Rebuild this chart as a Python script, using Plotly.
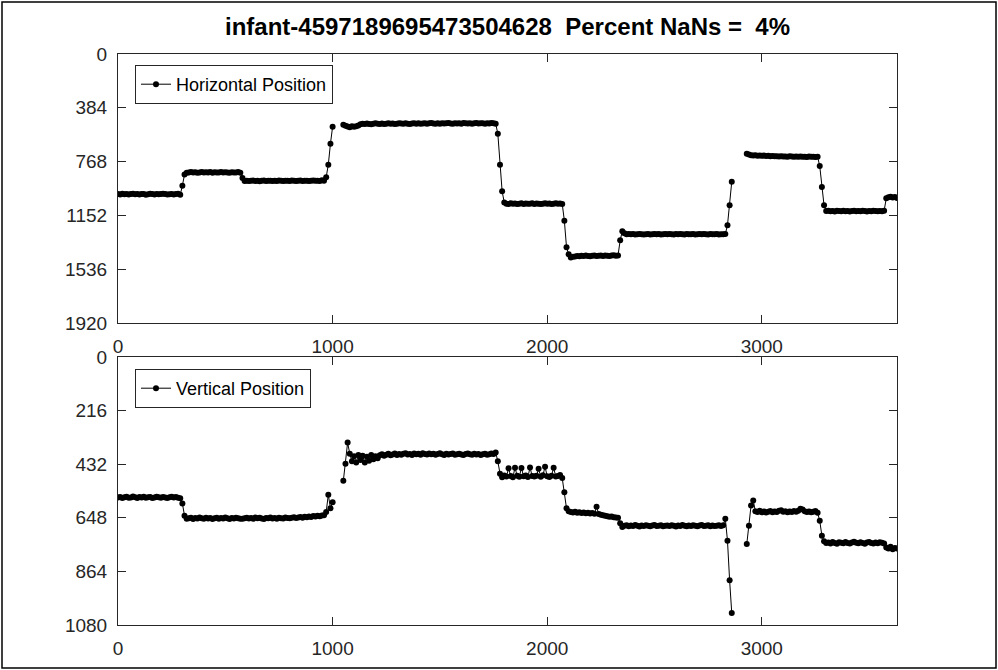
import plotly.graph_objects as go

TITLE = "infant-4597189695473504628\u00a0\u00a0Percent NaNs =\u00a0\u00a04%"
H_NAME = "Horizontal Position"
V_NAME = "Vertical Position"

# frame index (every 10th frame)
frames = list(range(0, 3640, 10))

# ---- Horizontal position (segments) ----
h_a = [1000,1002,998,1001,999,1003,1000,997,1001,1000,1002,999,1000,1004,1001,998,1000,1002,999,1001,1000,997,1000,1003,1001,999,1002,1000,998,1005]
h_b = [940, 860]
h_c = [848,845,843,846,844,847,845,842,846,844,845,843,847,844,846,845,843,846,844,845,847,844,846,845,843,848]
h_d = [885]
h_e = [906,904,907,905,903,906,904,908,905,903,906,904,905,907,904,906,903,905,907,904,905,906,903,904,906,905,903,907,904,905,906,904,903,905,904,906,902,904]
h_f = [880, 790, 640, 520]
h_g = [None, None, None, None]
h_h = [505,512,518,522,516,520,515,510]
h_i = [502,498,500,496,499,501,497,495,498,500,496,499,497,495,498,496,500,497,494,496,498,495,497,499,496,494,497,495,498,496,494,497,495,493,496,498,495,497,494,496,495,493,496,498,494,496,495,497,493,495,496,494,497,495,493,496,494,495,497,494,496,493,495,497]
h_j = [570, 790, 980, 1060]
h_k = [1068,1070,1066,1069,1067,1071,1068,1066,1070,1067,1069,1068,1066,1070,1067,1069,1071,1068,1066,1069,1067,1070,1068,1066,1069,1067,1070]
h_l = [1190, 1380, 1430]
h_m = [1452,1448,1445,1441,1443,1440,1442,1439,1441,1443,1440,1438,1442,1440,1439,1441,1438,1440,1442,1439,1437,1440,1438]
h_n = [1330, 1265]
h_o = [1280,1286,1284,1287,1285,1288,1286,1284,1287,1289,1286,1285,1288,1286,1284,1287,1285,1288,1286,1284,1287,1285,1286,1288,1285,1287,1284,1286,1288,1285,1287,1286,1284,1288,1286,1285,1287,1284,1286,1288,1285,1287,1286,1284,1288,1286,1287,1285]
h_p = [1222, 1080, 912]
h_q = [None, None, None, None, None, None]
h_r = [712,718,722,724,723,726,724,727,725,728,727,729,728,730,729,731,730,732,731,733,730,732,734,731,733,732,734,733,735,732,734,733,735,734]
h_s = [800, 950, 1080, 1120]
h_t = [1118,1122,1120,1124,1119,1121,1123,1118,1122,1120,1124,1121,1119,1123,1120,1122,1118,1121,1124,1120,1122,1119,1121,1123,1120,1122,1119]
h_u = [1030, 1022, 1018, 1025, 1020, 1028]

# ---- Vertical position (segments) ----
v_a = [566,564,568,565,563,567,566,562,565,568,564,566,563,567,565,564,568,566,563,565,567,564,566,568,565,563,566,564,567,569]
v_b = [590, 640]
v_c = [652,650,648,653,649,651,647,650,652,648,651,649,653,650,648,652,649,651,647,650,653,649,651,648,650,652]
v_d = [652]
v_e = [650,648,651,649,652,647,650,648,651,653,649,650,647,651,649,652,648,650,651,647,649,650,648,646,649,647,645,648,644,646,643,645,641,643,640,642,639,638]
v_f = [625, 555, 610, 585]
v_g = [None, None, None, None]
v_h = [499, 430, 345, 390, 420, 400, 425, 395]
v_i = [415,398,425,402,418,395,412,400,408,396,392,398,394,390,396,393,389,395,391,394,390,388,393,391,395,389,392,390,394,388,391,393,389,392,390,394,391,388,392,395,390,393,391,389,394,392,390,393,395,391,389,392,394,390,393,391,395,392,390,394,392,389,391,385]
v_j = [420, 470, 485, 478]
v_k = [482,448,480,485,446,479,483,447,481,478,484,445,480,482,479,450,483,477,442,481,484,479,446,482,480,476,488]
v_l = [545, 610, 622]
v_m = [625,627,624,628,626,629,627,630,628,631,629,632,603,633,636,638,640,642,644,643,646,647,648]
v_n = [670, 685]
v_o = [680,678,682,679,681,677,680,683,679,681,678,680,682,679,677,681,680,678,682,680,679,681,678,680,683,679,681,677,680,682,679,681,678,680,682,679,677,681,680,678,682,679,681,680,678,681,678,652]
v_p = [740, 900, 1032]
v_q = [None, None, None, None, None, None]
v_r = [754,680,598,578,622,625,620,626,623,627,624,621,626,623,625,620,618,624,622,626,623,625,621,624,620,612,615,622,625,623,626,624,621,628]
v_s = [660, 720, 742, 750]
v_t = [748,752,746,750,753,747,749,751,746,750,752,748,745,749,751,747,750,753,748,746,750,752,748,751,747,749,752]
v_u = [768, 772, 765, 775, 770, 772]

horizontal = (h_a + h_b + h_c + h_d + h_e + h_f + h_g + h_h + h_i + h_j + h_k + h_l + h_m
              + h_n + h_o + h_p + h_q + h_r + h_s + h_t + h_u)
vertical = (v_a + v_b + v_c + v_d + v_e + v_f + v_g + v_h + v_i + v_j + v_k + v_l + v_m
            + v_n + v_o + v_p + v_q + v_r + v_s + v_t + v_u)
assert len(horizontal) == len(frames) == len(vertical)

x_ticks = [0, 1000, 2000, 3000]
h_ticks = [0, 384, 768, 1152, 1536, 1920]
v_ticks = [0, 216, 432, 648, 864, 1080]

# ---- layout geometry (pixels) ----
W, H = 998, 670
L, R = 118, 897
T1, B1 = 54, 323
T2, B2 = 357, 625
plot_h = B2 - T1

def py(p):  # pixel y -> paper y
    return (B2 - p) / plot_h

def px(p):  # pixel x -> paper x
    return (p - L) / (R - L)

AX = "#262626"
FONT = "Liberation Sans, Arial, Helvetica, sans-serif"

fig = go.Figure()
fig.add_trace(go.Scatter(
    x=frames, y=horizontal, mode="lines+markers", name=H_NAME, showlegend=True,
    line=dict(color="black", width=1), marker=dict(color="black", size=6),
    xaxis="x", yaxis="y", legend="legend"))
fig.add_trace(go.Scatter(
    x=frames, y=vertical, mode="lines+markers", name=V_NAME, showlegend=True,
    line=dict(color="black", width=1), marker=dict(color="black", size=6),
    xaxis="x2", yaxis="y2", legend="legend2"))

axis_common = dict(showline=True, linecolor=AX, linewidth=1, mirror="ticks",
                   ticks="inside", ticklen=8, tickcolor=AX, showgrid=False,
                   zeroline=False, tickfont=dict(family=FONT, size=19, color=AX))

fig.update_layout(
    width=W, height=H, showlegend=True,
    margin=dict(l=L, r=W - R, t=T1, b=H - B2),
    paper_bgcolor="white", plot_bgcolor="white",
    title=dict(text=TITLE, x=0.5, xanchor="center", xref="paper", y=1 - 27 / H, yanchor="middle",
               font=dict(family=FONT, size=24, color="black", weight="bold")),
    xaxis=dict(domain=[0, 1], anchor="y", range=[0, 3630], tickvals=x_ticks,
               ticklabelstandoff=6, **axis_common),
    yaxis=dict(domain=[py(B1), 1], anchor="x", range=[1920, 0], tickvals=h_ticks,
               ticklabelstandoff=6, **axis_common),
    xaxis2=dict(domain=[0, 1], anchor="y2", range=[0, 3630], tickvals=x_ticks,
                ticklabelstandoff=6, **axis_common),
    yaxis2=dict(domain=[0, py(T2)], anchor="x2", range=[1080, 0], tickvals=v_ticks,
                ticklabelstandoff=6, **axis_common),
    legend=dict(x=px(135), y=py(65), xanchor="left", yanchor="top",
                bgcolor="white", bordercolor=AX, borderwidth=1,
                font=dict(family=FONT, size=18, color="black")),
    legend2=dict(x=px(135), y=py(369), xanchor="left", yanchor="top",
                 bgcolor="white", bordercolor=AX, borderwidth=1,
                 font=dict(family=FONT, size=18, color="black")),
    shapes=[dict(type="rect", xref="paper", yref="paper",
                 x0=px(2), x1=px(996), y0=py(668), y1=py(2),
                 line=dict(color="black", width=1.5), fillcolor="rgba(0,0,0,0)", layer="below")],
)

fig.write_html("out.html", config={"displayModeBar": False},
               post_script="document.body.style.margin='0';")
